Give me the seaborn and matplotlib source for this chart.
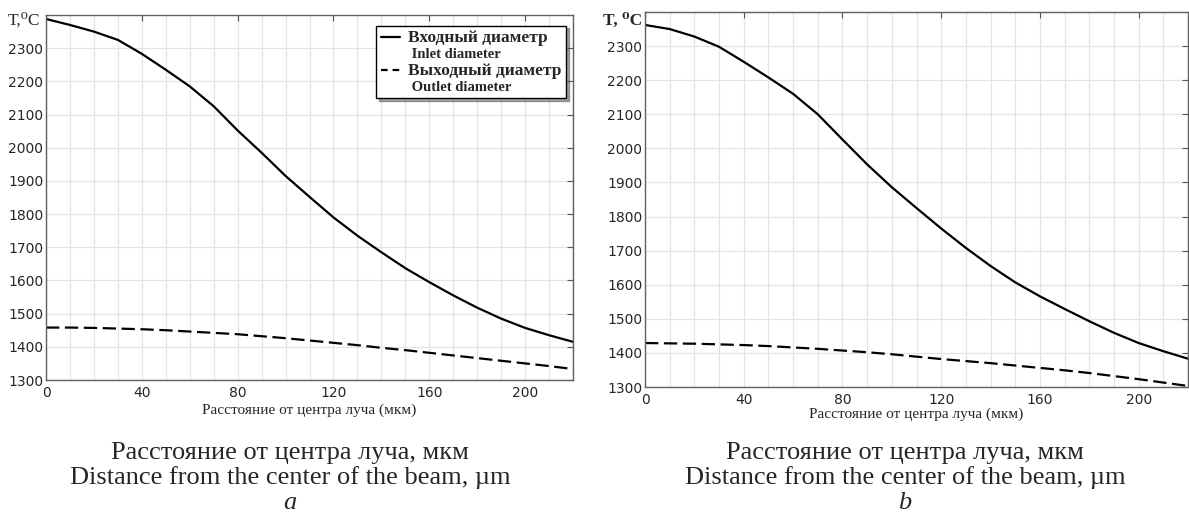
import matplotlib
matplotlib.use('Agg')
import matplotlib.pyplot as plt
import seaborn as sns
import pandas as pd
from matplotlib.lines import Line2D
from matplotlib.ticker import MultipleLocator

# values
distance = [0, 10, 20, 30, 40, 50, 60, 70, 80, 90, 100, 110,
            120, 130, 140, 150, 160, 170, 180, 190, 200, 210, 220]

inlet_a = [2388, 2370, 2350, 2325, 2283, 2235, 2185, 2125, 2052, 1985, 1915, 1852,
           1790, 1735, 1685, 1637, 1595, 1555, 1518, 1485, 1457, 1435, 1415]
outlet_a = [1458, 1458, 1457, 1455, 1453, 1450, 1446, 1442, 1438, 1432, 1426, 1419,
            1412, 1405, 1397, 1390, 1382, 1374, 1366, 1358, 1350, 1342, 1333]

inlet_b = [2362, 2350, 2328, 2298, 2254, 2208, 2160, 2100, 2026, 1953, 1886, 1825,
           1765, 1708, 1655, 1607, 1566, 1529, 1493, 1459, 1429, 1405, 1383]
outlet_b = [1429, 1428, 1427, 1425, 1423, 1420, 1416, 1412, 1407, 1402, 1396, 1389,
            1382, 1376, 1370, 1363, 1356, 1349, 1341, 1332, 1323, 1313, 1303]

series_ru = ['Входный диаметр', 'Выходный диаметр']
series_en = ['Inlet diameter', 'Outlet diameter']
x_ticks = [0, 40, 80, 120, 160, 200]
y_ticks = [1300, 1400, 1500, 1600, 1700, 1800, 1900, 2000, 2100, 2200, 2300]
panel_letters = ['a', 'b']
y_titles = ['T,\u2070C', 'T, \u2070C']

sns.set_style('white')
plt.rcParams['font.family'] = ['DejaVu Sans']
serif = ['Liberation Serif', 'DejaVu Serif']

fig = plt.figure(figsize=(11.89, 5.2), dpi=100)
ax_a = fig.add_axes([46 / 1189, 140 / 520, 527 / 1189, 365 / 520])
ax_b = fig.add_axes([645 / 1189, 133 / 520, 543 / 1189, 375 / 520])

panels = [(ax_a, inlet_a, outlet_a, 2.5), (ax_b, inlet_b, outlet_b, 0.8)]
for ax, inlet, outlet, lpad in panels:
    df = pd.DataFrame({
        'distance': distance + distance,
        'T': inlet + outlet,
        'series': [series_ru[0]] * len(distance) + [series_ru[1]] * len(distance),
    })
    sns.lineplot(data=df, x='distance', y='T', style='series',
                 dashes={series_ru[0]: '', series_ru[1]: (6, 2.5)},
                 color='black', linewidth=1.6, errorbar=None, legend=False, ax=ax)
    ax.set_xlim(0, 220)
    ax.set_ylim(1300, 2400)
    ax.set_xticks(x_ticks)
    ax.set_yticks(y_ticks)
    ax.xaxis.set_minor_locator(MultipleLocator(10))
    ax.grid(True, which='both', axis='x', color='#e4e4e4', linewidth=0.9)
    ax.grid(True, which='major', axis='y', color='#e4e4e4', linewidth=0.9)
    ax.set_axisbelow(True)
    ax.tick_params(axis='both', which='major', direction='in', length=4, width=0.8,
                   top=True, right=True, color='#555555', labelsize=10, pad=2)
    ax.tick_params(axis='x', which='major', pad=4)
    ax.tick_params(axis='both', which='minor', length=0)
    for s in ax.spines.values():
        s.set_color('#606060')
        s.set_linewidth(1.0)
    ax.set_xlabel('Расстояние от центра луча (мкм)', family=serif, fontsize=11, labelpad=lpad)
    ax.set_ylabel('')

# legend only on panel a
handles = [Line2D([], [], color='black', linewidth=1.6),
           Line2D([], [], alpha=0),
           Line2D([], [], color='black', linewidth=1.6, dashes=(3, 2.2)),
           Line2D([], [], alpha=0)]
labels = [series_ru[0], ' ' + series_en[0], series_ru[1], ' ' + series_en[1]]
leg = ax_a.legend(handles, labels, loc='upper right', bbox_to_anchor=(1.0, 0.99),
                  frameon=True, fancybox=False, shadow=True, edgecolor='black',
                  handlelength=1.4, handletextpad=0.6, labelspacing=0.15,
                  borderpad=0.3, prop={'family': serif, 'weight': 'bold'})
leg.get_frame().set_linewidth(1.0)
for i, t in enumerate(leg.get_texts()):
    t.set_fontsize(12.5 if i % 2 == 0 else 10.5)

# T, degC labels
fig.text(8 / 1189, 1 - 21 / 520, y_titles[0], family=serif, fontsize=12.5, va='center', ha='left')
fig.text(603 / 1189, 1 - 21 / 520, y_titles[1], family=serif, fontsize=12.5,
         weight='bold', va='center', ha='left')

# captions under each panel
for cx, letter in zip([290 / 1189, 905 / 1189], panel_letters):
    fig.text(cx, 1 - 453 / 520, 'Расстояние от центра луча, мкм', family=serif,
             fontsize=19, ha='center', va='center')
    fig.text(cx, 1 - 478 / 520, 'Distance from the center of the beam, \u00b5m', family=serif,
             fontsize=19, ha='center', va='center')
    fig.text(cx, 1 - 503 / 520, letter, family=serif, fontsize=19, style='italic',
             ha='center', va='center')

fig.savefig('out.png', dpi=100)
